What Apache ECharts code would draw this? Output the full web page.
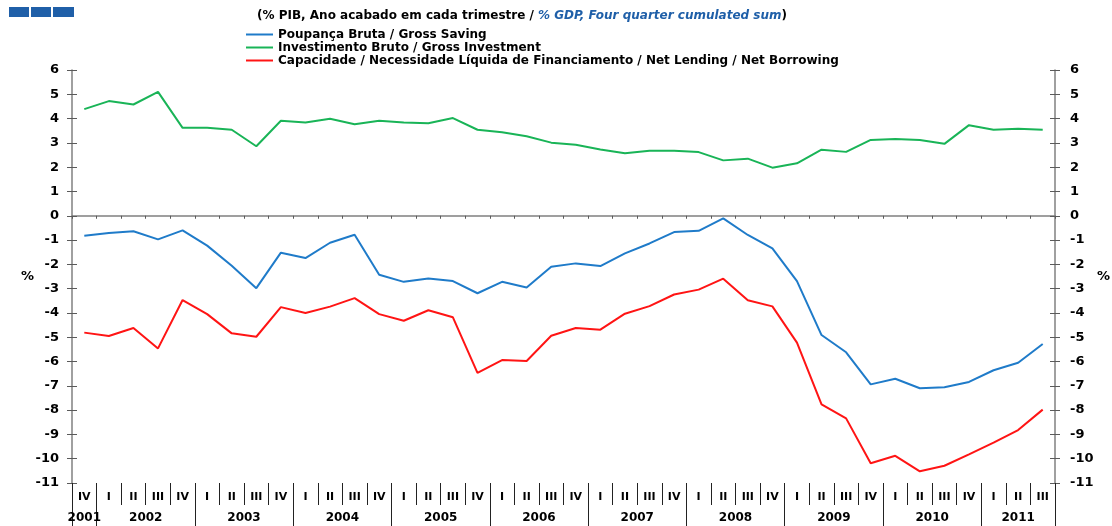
<!DOCTYPE html>
<html>
<head>
<meta charset="utf-8">
<title>Poupança, Investimento e Capacidade de Financiamento</title>
<script src="https://cdn.jsdelivr.net/npm/echarts@6/dist/echarts.min.js"></script>
<style>
  html, body { margin: 0; padding: 0; background: #ffffff; }
  #chart { width: 1112px; height: 526px; }
</style>
</head>
<body>
<div id="chart"></div>
<script>
// Quarter labels, 2001 IV .. 2011 III
const quarters = [
  'IV',
  'I','II','III','IV', 'I','II','III','IV', 'I','II','III','IV',
  'I','II','III','IV', 'I','II','III','IV', 'I','II','III','IV',
  'I','II','III','IV', 'I','II','III','IV', 'I','II','III','IV',
  'I','II','III'
];
// Years and how many quarters each one covers on the axis
const years = ['2001','2002','2003','2004','2005','2006','2007','2008','2009','2010','2011'];
const yearQuarterCounts = [1, 4, 4, 4, 4, 4, 4, 4, 4, 4, 3];

// % of GDP, four-quarter cumulated sum
const grossSaving = [
  -0.82, -0.71, -0.64, -0.97, -0.60, -1.23, -2.06, -2.98, -1.52, -1.74,
  -1.11, -0.78, -2.43, -2.72, -2.58, -2.69, -3.19, -2.72, -2.95, -2.10,
  -1.96, -2.07, -1.55, -1.14, -0.67, -0.62, -0.11, -0.79, -1.34, -2.69,
  -4.91, -5.62, -6.94, -6.71, -7.10, -7.06, -6.84, -6.36, -6.05, -5.28
];
const grossInvestment = [
  4.39, 4.72, 4.58, 5.10, 3.62, 3.62, 3.54, 2.86, 3.91, 3.84,
  3.99, 3.77, 3.91, 3.84, 3.81, 4.02, 3.54, 3.44, 3.27, 3.01,
  2.92, 2.73, 2.57, 2.68, 2.68, 2.62, 2.28, 2.35, 1.98, 2.16,
  2.72, 2.63, 3.12, 3.16, 3.12, 2.96, 3.73, 3.54, 3.58, 3.54
];
const netLending = [
  -4.81, -4.95, -4.62, -5.46, -3.47, -4.05, -4.84, -4.98, -3.76, -4.00,
  -3.74, -3.39, -4.05, -4.32, -3.89, -4.18, -6.47, -5.94, -5.98, -4.94,
  -4.62, -4.69, -4.03, -3.72, -3.24, -3.04, -2.59, -3.48, -3.73, -5.22,
  -7.76, -8.34, -10.19, -9.88, -10.52, -10.29, -9.82, -9.34, -8.82, -7.98
];

const seriesNames = [
  'Poupança Bruta / Gross Saving',
  'Investimento Bruto / Gross Investment',
  'Capacidade / Necessidade Líquida de Financiamento / Net Lending / Net Borrowing'
];

// year label centred under its quarters (in quarter units)
const yearCentres = {};
let start = 0;
years.forEach(function (y, k) {
  yearCentres[(start + yearQuarterCounts[k] / 2).toFixed(1)] = y;
  start += yearQuarterCounts[k];
});

const FONT = '"DejaVu Sans", "Liberation Sans", Arial, sans-serif';
const AXIS_GREY = '#808080';
const TICK_GREY = '#5a5a5a';

const yBase = {
  type: 'value', min: -11, max: 6, interval: 1,
  splitLine: { show: false }
};

const chart = echarts.init(document.getElementById('chart'), null, { renderer: 'canvas' });

chart.setOption({
  animation: false,
  backgroundColor: '#ffffff',
  textStyle: { fontFamily: FONT },
  grid: { left: 72, right: 57, top: 70, bottom: 43, containLabel: false, outerBoundsMode: 'none' },
  graphic: [
    { type: 'rect', left: 9, top: 7, shape: { width: 20, height: 10 }, style: { fill: '#1f5fa8' } },
    { type: 'rect', left: 31, top: 7, shape: { width: 20, height: 10 }, style: { fill: '#1f5fa8' } },
    { type: 'rect', left: 53, top: 7, shape: { width: 21, height: 10 }, style: { fill: '#1f5fa8' } },
    {
      type: 'text', left: 257, top: 10,
      style: {
        text: '{a|(% PIB, Ano acabado em cada trimestre / }{b|% GDP, Four quarter cumulated sum}{a|)}',
        rich: {
          a: { fontFamily: FONT, fontWeight: 'bold', fontSize: 12, fill: '#000000' },
          b: { fontFamily: FONT, fontWeight: 'bold', fontStyle: 'italic', fontSize: 12, fill: '#1f5fa8' }
        }
      }
    }
  ],
  legend: {
    orient: 'vertical',
    left: 241, top: 23,
    itemGap: 0,
    itemWidth: 27, itemHeight: 2,
    icon: 'rect',
    textStyle: { fontFamily: FONT, fontWeight: 'bold', fontSize: 12, color: '#000000', lineHeight: 13 },
    data: seriesNames
  },
  xAxis: [
    { // zero line with quarter ticks
      type: 'category', data: quarters, boundaryGap: true,
      axisLine: { show: true, onZero: true, lineStyle: { color: AXIS_GREY, width: 1.5 } },
      axisTick: { show: true, interval: 0, length: 3, lineStyle: { color: TICK_GREY } },
      axisLabel: { show: false }, splitLine: { show: false }
    },
    { // quarter labels with separators
      type: 'category', data: quarters, boundaryGap: true, position: 'bottom',
      axisLine: { show: false, onZero: false },
      axisTick: { show: true, interval: 0, length: 22, lineStyle: { color: '#222222', width: 1 } },
      axisLabel: { show: true, interval: 0, margin: 9, fontFamily: FONT, fontWeight: 'bold', fontSize: 11, color: '#000000' },
      splitLine: { show: false }
    },
    { // year separators
      type: 'category', data: quarters, boundaryGap: true, position: 'bottom',
      axisLine: { show: false, onZero: false },
      axisTick: {
        show: true, length: 43,
        interval: function (index, value) { return index === 0 || value === 'I'; },
        lineStyle: { color: '#222222', width: 1 }
      },
      axisLabel: { show: false }, splitLine: { show: false }
    },
    { // year labels
      type: 'value', min: 0, max: quarters.length, interval: 0.5, position: 'bottom',
      axisLine: { show: false, onZero: false }, axisTick: { show: false }, splitLine: { show: false },
      axisLabel: {
        show: true, margin: 29, showMinLabel: true, showMaxLabel: true,
        fontFamily: FONT, fontWeight: 'bold', fontSize: 12, color: '#000000',
        formatter: function (v) { return yearCentres[v.toFixed(1)] || ''; }
      }
    }
  ],
  yAxis: [
    Object.assign({}, yBase, {
      position: 'left',
      name: '%', nameLocation: 'middle', nameRotate: 0, nameGap: 38, nameMoveOverlap: false,
      nameTextStyle: { fontFamily: FONT, fontWeight: 'bold', fontSize: 13, color: '#000000' },
      axisLine: { show: true, lineStyle: { color: AXIS_GREY, width: 1.5 } },
      axisTick: { show: true, length: 5, lineStyle: { color: TICK_GREY } },
      axisLabel: { margin: 13, fontFamily: FONT, fontWeight: 'bold', fontSize: 13, color: '#000000' }
    }),
    Object.assign({}, yBase, {
      position: 'left',
      axisLine: { show: false },
      axisTick: { show: true, inside: true, length: 5, lineStyle: { color: TICK_GREY } },
      axisLabel: { show: false }
    }),
    Object.assign({}, yBase, {
      position: 'right',
      name: '%', nameLocation: 'middle', nameRotate: 0, nameGap: 42, nameMoveOverlap: false,
      nameTextStyle: { fontFamily: FONT, fontWeight: 'bold', fontSize: 13, color: '#000000' },
      axisLine: { show: true, lineStyle: { color: AXIS_GREY, width: 1.5 } },
      axisTick: { show: true, length: 5, lineStyle: { color: TICK_GREY } },
      axisLabel: { margin: 15, fontFamily: FONT, fontWeight: 'bold', fontSize: 13, color: '#000000' }
    }),
    Object.assign({}, yBase, {
      position: 'right',
      axisLine: { show: false },
      axisTick: { show: true, inside: true, length: 5, lineStyle: { color: TICK_GREY } },
      axisLabel: { show: false }
    })
  ],
  series: [
    {
      name: seriesNames[0], type: 'line', data: grossSaving,
      xAxisIndex: 0, yAxisIndex: 0, showSymbol: false, symbol: 'none',
      lineStyle: { color: '#1f7bc9', width: 2 }, itemStyle: { color: '#1f7bc9' }
    },
    {
      name: seriesNames[1], type: 'line', data: grossInvestment,
      xAxisIndex: 0, yAxisIndex: 0, showSymbol: false, symbol: 'none',
      lineStyle: { color: '#19b457', width: 2 }, itemStyle: { color: '#19b457' }
    },
    {
      name: seriesNames[2], type: 'line', data: netLending,
      xAxisIndex: 0, yAxisIndex: 0, showSymbol: false, symbol: 'none',
      lineStyle: { color: '#ff1414', width: 2 }, itemStyle: { color: '#ff1414' }
    }
  ]
});
</script>
</body>
</html>
